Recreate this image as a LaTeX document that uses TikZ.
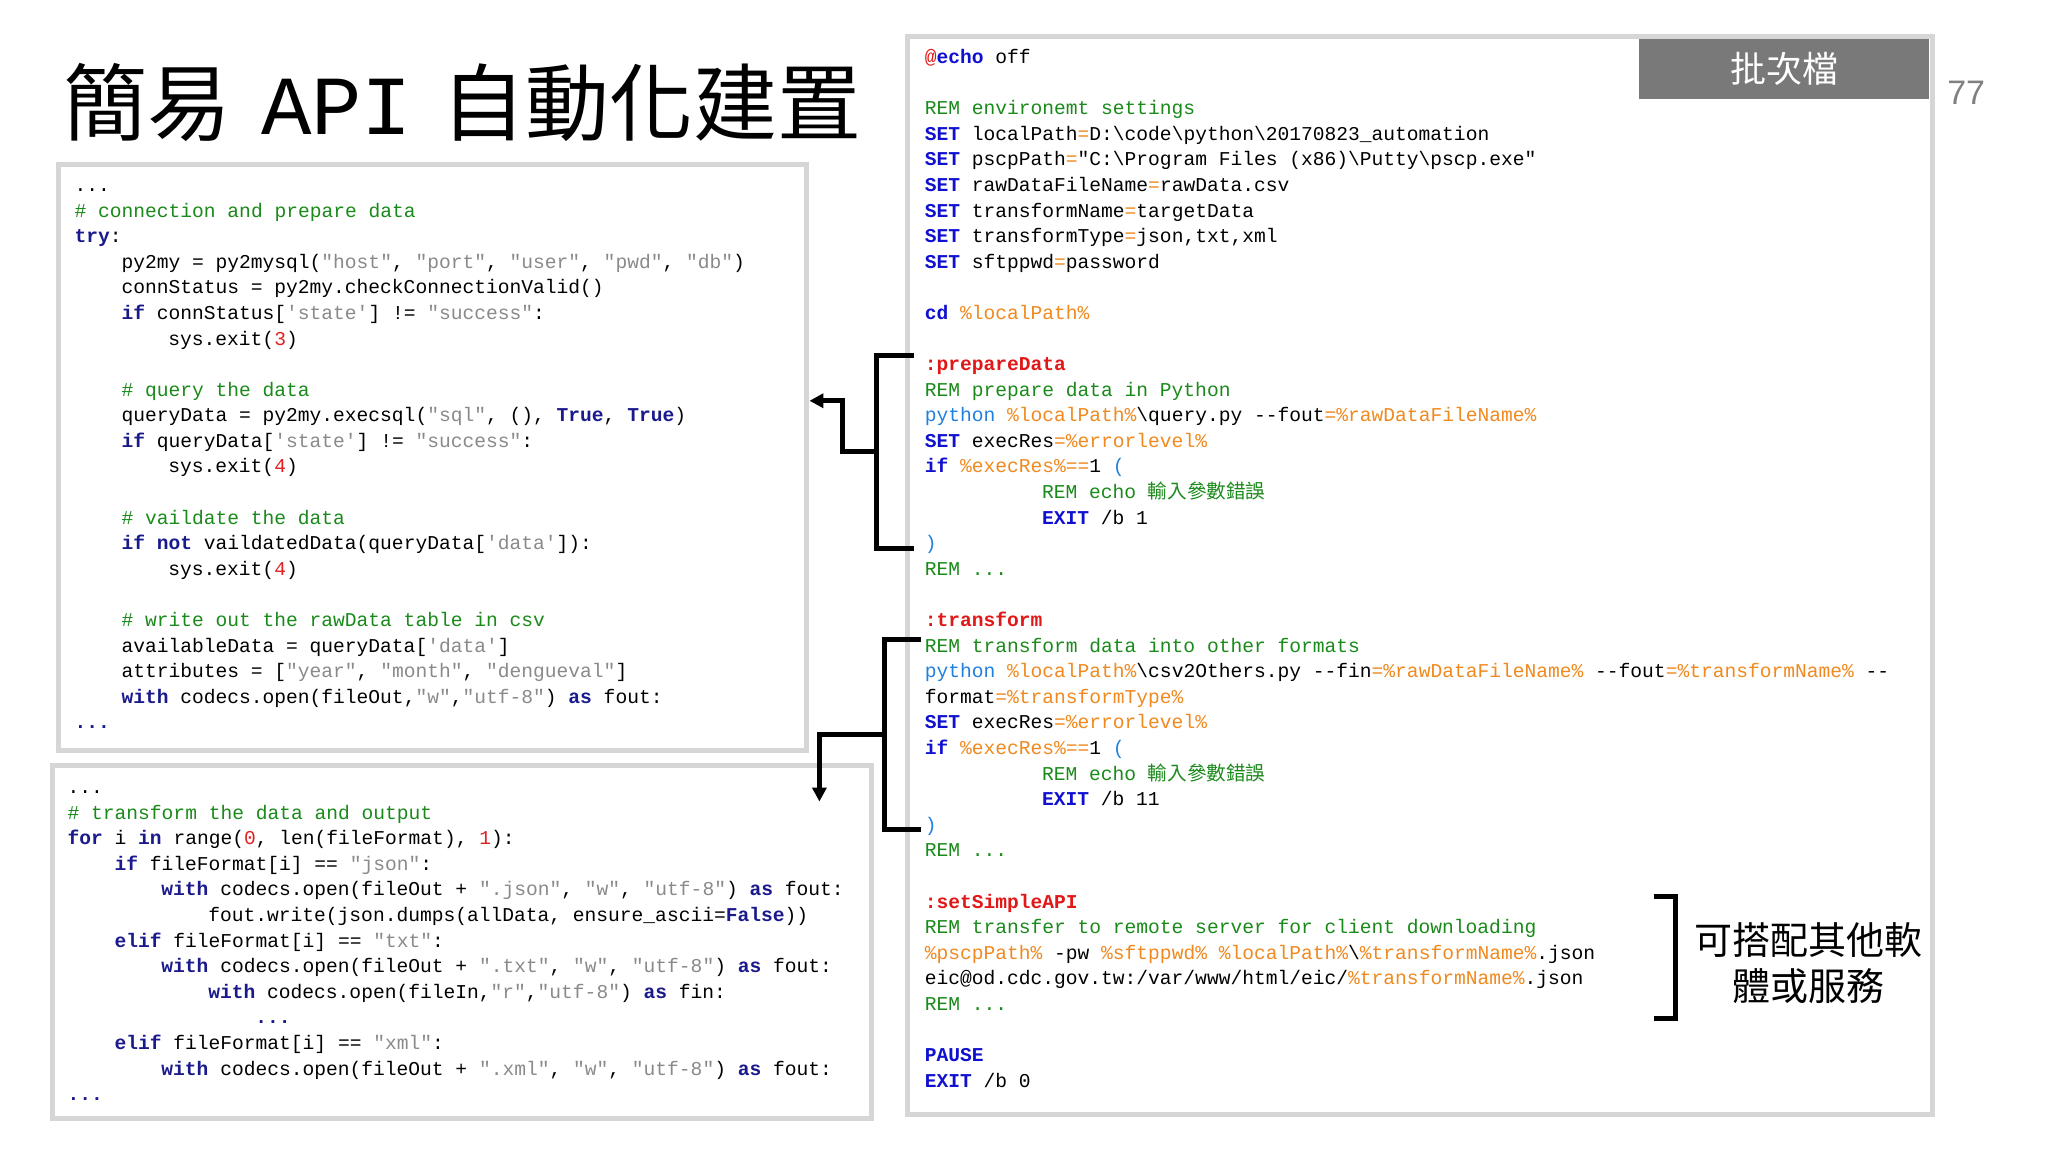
\documentclass[tikz,border=0pt]{standalone}
\usepackage{fontspec}
\setmainfont{Liberation Sans}
\setmonofont{Liberation Mono}
\newfontfamily\cjk{Noto Sans CJK TC}
\usetikzlibrary{arrows.meta}
\definecolor{pkw}{HTML}{1A1A8C}
\definecolor{pst}{HTML}{8A8A8A}
\definecolor{pnm}{HTML}{E02020}
\definecolor{pcm}{HTML}{1A8A1A}
\definecolor{bkw}{HTML}{1010D0}
\definecolor{blt}{HTML}{2080E0}
\definecolor{bvr}{HTML}{F08A20}
\definecolor{blb}{HTML}{E01818}
\definecolor{bord}{HTML}{D6D6D6}
\newcommand\kw[1]{\textcolor{pkw}{\bfseries #1}}
\newcommand\sr[1]{\textcolor{pst}{#1}}
\newcommand\nm[1]{\textcolor{pnm}{#1}}
\newcommand\cm[1]{\textcolor{pcm}{#1}}
\newcommand\bk[1]{\textcolor{bkw}{\bfseries #1}}
\newcommand\bl[1]{\textcolor{blt}{#1}}
\newcommand\vr[1]{\textcolor{bvr}{#1}}
\newcommand\lb[1]{\textcolor{blb}{\bfseries #1}}
\newcommand\bs{\textbackslash{}}
\newcommand\CL[5]{\node[code] (#1) at ({#2+#4*11.82},{-(#3)}) {#5};}
\tikzset{code/.style={anchor=base west,inner sep=0pt,font=\ttfamily\fontsize{19.6}{24}\selectfont},
panel/.style={draw=bord,line width=5pt,fill=white},
brk/.style={line width=5pt,line cap=butt,line join=miter}}
\begin{document}
\begin{tikzpicture}[x=0.992pt,y=0.992pt]
\useasboundingbox (0,0) rectangle (2064.5,-1161.3);
\fill[white] (0,0) rectangle (2064.5,-1161.3);
% panels
\draw[panel] (59,-166) rectangle (813,-757);
\draw[panel] (53,-772) rectangle (879,-1127);
\draw[panel] (915,-37) rectangle (1948,-1123);
\node[fill=gray!95!black,minimum width=290,minimum height=60,inner sep=0pt,anchor=north west,text=white,font=\cjk\fontsize{36}{40}\selectfont] (tag) at (1652,-39) {批次檔};
\node[anchor=base,text=gray,font=\fontsize{34}{40}\selectfont] (pg) at (1982,-105) {77};
\node[anchor=base west,inner sep=0pt,font=\cjk\fontsize{84}{90}\selectfont] (title) at (64,-136) {簡易\hspace{0.35em}{\ttfamily API}\hspace{0.35em}自動化建置};
% left box 1
\def\X{75}
\def\Y{193}
\CL{a0}{\X}{\Y+0*25.8}{0}{...}
\CL{a1}{\X}{\Y+1*25.8}{0}{\cm{\# connection and prepare data}}
\CL{a2}{\X}{\Y+2*25.8}{0}{\kw{try}:}
\CL{a3}{\X}{\Y+3*25.8}{4}{py2my = py2mysql(\sr{"host"}, \sr{"port"}, \sr{"user"}, \sr{"pwd"}, \sr{"db"})}
\CL{a4}{\X}{\Y+4*25.8}{4}{connStatus = py2my.checkConnectionValid()}
\CL{a5}{\X}{\Y+5*25.8}{4}{\kw{if} connStatus[\sr{'state'}] != \sr{"success"}:}
\CL{a6}{\X}{\Y+6*25.8}{8}{sys.exit(\nm{3})}
\CL{a8}{\X}{\Y+8*25.8}{4}{\cm{\# query the data}}
\CL{a9}{\X}{\Y+9*25.8}{4}{queryData = py2my.execsql(\sr{"sql"}, (), \kw{True}, \kw{True})}
\CL{a10}{\X}{\Y+10*25.8}{4}{\kw{if} queryData[\sr{'state'}] != \sr{"success"}:}
\CL{a11}{\X}{\Y+11*25.8}{8}{sys.exit(\nm{4})}
\CL{a13}{\X}{\Y+13*25.8}{4}{\cm{\# vaildate the data}}
\CL{a14}{\X}{\Y+14*25.8}{4}{\kw{if not} vaildatedData(queryData[\sr{'data'}]):}
\CL{a15}{\X}{\Y+15*25.8}{8}{sys.exit(\nm{4})}
\CL{a17}{\X}{\Y+17*25.8}{4}{\cm{\# write out the rawData table in csv}}
\CL{a18}{\X}{\Y+18*25.8}{4}{availableData = queryData[\sr{'data'}]}
\CL{a19}{\X}{\Y+19*25.8}{4}{attributes = [\sr{"year"}, \sr{"month"}, \sr{"dengueval"}]}
\CL{a20}{\X}{\Y+20*25.8}{4}{\kw{with} codecs.open(fileOut,\sr{"w"},\sr{"utf-8"}) \kw{as} fout:}
\CL{a21}{\X}{\Y+21*25.8}{0}{\kw{...}}
% left box 2
\def\X{68}
\def\Y{800}
\CL{b0}{\X}{\Y+0*25.8}{0}{...}
\CL{b1}{\X}{\Y+1*25.8}{0}{\cm{\# transform the data and output}}
\CL{b2}{\X}{\Y+2*25.8}{0}{\kw{for} i \kw{in} range(\nm{0}, len(fileFormat), \nm{1}):}
\CL{b3}{\X}{\Y+3*25.8}{4}{\kw{if} fileFormat[i] == \sr{"json"}:}
\CL{b4}{\X}{\Y+4*25.8}{8}{\kw{with} codecs.open(fileOut + \sr{".json"}, \sr{"w"}, \sr{"utf-8"}) \kw{as} fout:}
\CL{b5}{\X}{\Y+5*25.8}{12}{fout.write(json.dumps(allData, ensure\_ascii=\kw{False}))}
\CL{b6}{\X}{\Y+6*25.8}{4}{\kw{elif} fileFormat[i] == \sr{"txt"}:}
\CL{b7}{\X}{\Y+7*25.8}{8}{\kw{with} codecs.open(fileOut + \sr{".txt"}, \sr{"w"}, \sr{"utf-8"}) \kw{as} fout:}
\CL{b8}{\X}{\Y+8*25.8}{12}{\kw{with} codecs.open(fileIn,\sr{"r"},\sr{"utf-8"}) \kw{as} fin:}
\CL{b9}{\X}{\Y+9*25.8}{16}{\kw{...}}
\CL{b10}{\X}{\Y+10*25.8}{4}{\kw{elif} fileFormat[i] == \sr{"xml"}:}
\CL{b11}{\X}{\Y+11*25.8}{8}{\kw{with} codecs.open(fileOut + \sr{".xml"}, \sr{"w"}, \sr{"utf-8"}) \kw{as} fout:}
\CL{b12}{\X}{\Y+12*25.8}{0}{\kw{...}}
% right box
\def\X{932}
\def\Y{64}
\CL{c0}{\X}{\Y+0*25.8}{0}{\textcolor{blb}{@}\bk{echo} off}
\CL{c2}{\X}{\Y+2*25.8}{0}{\cm{REM environemt settings}}
\CL{c3}{\X}{\Y+3*25.8}{0}{\bk{SET} localPath\vr{=}D:\bs code\bs python\bs 20170823\_automation}
\CL{c4}{\X}{\Y+4*25.8}{0}{\bk{SET} pscpPath\vr{=}"C:\bs Program Files (x86)\bs Putty\bs pscp.exe"}
\CL{c5}{\X}{\Y+5*25.8}{0}{\bk{SET} rawDataFileName\vr{=}rawData.csv}
\CL{c6}{\X}{\Y+6*25.8}{0}{\bk{SET} transformName\vr{=}targetData}
\CL{c7}{\X}{\Y+7*25.8}{0}{\bk{SET} transformType\vr{=}json,txt,xml}
\CL{c8}{\X}{\Y+8*25.8}{0}{\bk{SET} sftppwd\vr{=}password}
\CL{c10}{\X}{\Y+10*25.8}{0}{\bk{cd} \vr{\%localPath\%}}
\CL{c12}{\X}{\Y+12*25.8}{0}{\lb{:prepareData}}
\CL{c13}{\X}{\Y+13*25.8}{0}{\cm{REM prepare data in Python}}
\CL{c14}{\X}{\Y+14*25.8}{0}{\bl{python} \vr{\%localPath\%}\bs query.py --fout\vr{=\%rawDataFileName\%}}
\CL{c15}{\X}{\Y+15*25.8}{0}{\bk{SET} execRes\vr{=\%errorlevel\%}}
\CL{c16}{\X}{\Y+16*25.8}{0}{\bk{if} \vr{\%execRes\%==}1 \bl{(}}
\CL{c17}{\X}{\Y+17*25.8}{10}{\cm{REM echo {\cjk 輸入參數錯誤}}}
\CL{c18}{\X}{\Y+18*25.8}{10}{\bk{EXIT} /b 1}
\CL{c19}{\X}{\Y+19*25.8}{0}{\bl{)}}
\CL{c20}{\X}{\Y+20*25.8}{0}{\cm{REM ...}}
\CL{c22}{\X}{\Y+22*25.8}{0}{\lb{:transform}}
\CL{c23}{\X}{\Y+23*25.8}{0}{\cm{REM transform data into other formats}}
\CL{c24}{\X}{\Y+24*25.8}{0}{\bl{python} \vr{\%localPath\%}\bs csv2Others.py --fin\vr{=\%rawDataFileName\%} --fout\vr{=\%transformName\%} --}
\CL{c25}{\X}{\Y+25*25.8}{0}{format\vr{=\%transformType\%}}
\CL{c26}{\X}{\Y+26*25.8}{0}{\bk{SET} execRes\vr{=\%errorlevel\%}}
\CL{c27}{\X}{\Y+27*25.8}{0}{\bk{if} \vr{\%execRes\%==}1 \bl{(}}
\CL{c28}{\X}{\Y+28*25.8}{10}{\cm{REM echo {\cjk 輸入參數錯誤}}}
\CL{c29}{\X}{\Y+29*25.8}{10}{\bk{EXIT} /b 11}
\CL{c30}{\X}{\Y+30*25.8}{0}{\bl{)}}
\CL{c31}{\X}{\Y+31*25.8}{0}{\cm{REM ...}}
\CL{c33}{\X}{\Y+33*25.8}{0}{\lb{:setSimpleAPI}}
\CL{c34}{\X}{\Y+34*25.8}{0}{\cm{REM transfer to remote server for client downloading}}
\CL{c35}{\X}{\Y+35*25.8}{0}{\vr{\%pscpPath\%} -pw \vr{\%sftppwd\% \%localPath\%}\bs\vr{\%transformName\%}.json}
\CL{c36}{\X}{\Y+36*25.8}{0}{eic@od.cdc.gov.tw:/var/www/html/eic/\vr{\%transformName\%}.json}
\CL{c37}{\X}{\Y+37*25.8}{0}{\cm{REM ...}}
\CL{c39}{\X}{\Y+39*25.8}{0}{\bk{PAUSE}}
\CL{c40}{\X}{\Y+40*25.8}{0}{\bk{EXIT} /b 0}
% brackets
\coordinate (p1t) at (921,-358); \coordinate (p1b) at (921,-553);
\coordinate (p1m) at (884,-455); \coordinate (a1) at (816,-404);
\draw[brk] (p1t) -- (884,-358) -- (884,-553) -- (p1b);
\draw[brk,-{Triangle[length=14pt,width=14pt]}] (p1m) -- (849,-455) -- (849,-404) -- (a1);
\coordinate (p2t) at (928,-645); \coordinate (p2b) at (928,-836);
\coordinate (p2m) at (892,-740); \coordinate (a2) at (826,-808);
\draw[brk] (p2t) -- (892,-645) -- (892,-836) -- (p2b);
\draw[brk,-{Triangle[length=14pt,width=14pt]}] (p2m) -- (826,-740) -- (a2);
\coordinate (r1) at (1667,-904); \coordinate (r2) at (1667,-1027);
\draw[brk] (r1) -- (1689,-904) -- (1689,-1027) -- (r2);
\node[font=\cjk\fontsize{38}{46}\selectfont,align=center] (note) at (1823,-971) {可搭配其他軟\\體或服務};
\end{tikzpicture}
\end{document}
